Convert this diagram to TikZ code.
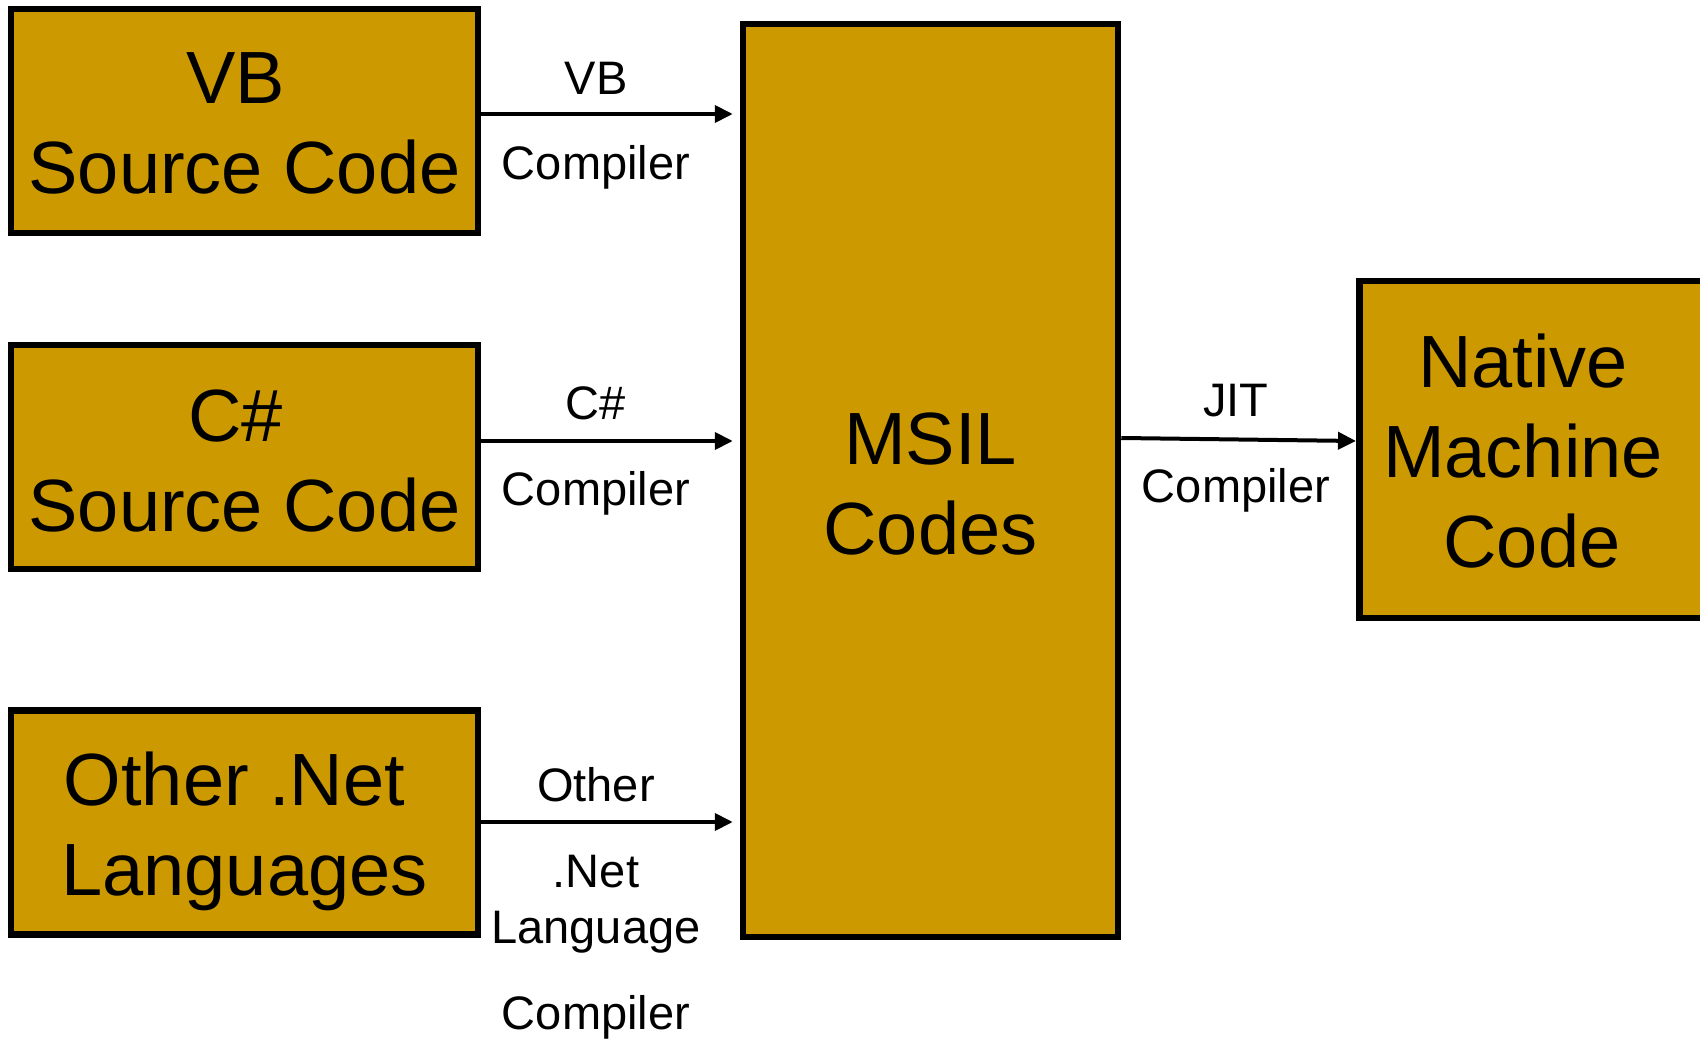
\documentclass[tikz,border=0pt]{standalone}
\usepackage{fontspec}
\setmainfont{Liberation Sans}
\usetikzlibrary{arrows.meta}
\definecolor{gold}{RGB}{204,153,0}
\newcommand\lowr[2]{\raisebox{-#1}[\height][\depth]{#2}}
\begin{document}
\begin{tikzpicture}[x=1pt,y=-1pt,
  bigfont/.style={font=\fontsize{74}{90}\selectfont},
  box/.style={draw=black, line width=6.5pt, fill=gold, inner sep=0pt, align=center, bigfont},
  lbl/.style={inner sep=0pt, font=\fontsize{47}{56}\selectfont},
  arr/.style={line width=4pt, -{Triangle[length=18pt,width=17pt]}}]
\useasboundingbox (0,0) rectangle (1700,1040);
\clip (0,0) rectangle (1700,1040);
\fill[white] (0,0) rectangle (1700,1040);

\node[box, minimum width=467pt, minimum height=224pt] (vb) at (244.5,121)
  {\lowr{2pt}{\hbox{VB\kern18pt}}\\\lowr{2pt}{Source Code}};
\node[box, minimum width=467pt, minimum height=224pt] (cs) at (244.5,457)
  {\lowr{4pt}{\hbox{C\#\kern18pt}}\\\lowr{4pt}{Source Code}};
\node[box, minimum width=467pt, minimum height=224pt] (oth) at (244.5,822.5)
  {\lowr{9pt}{\hbox{Other .Net\kern20pt}}\\\lowr{9pt}{Languages}};
\node[box, minimum width=375pt, minimum height=913pt] (msil) at (930.5,480.5)
  {\lowr{4pt}{MSIL}\\\lowr{4pt}{Codes}};
\node[box, minimum width=360pt, minimum height=337pt, anchor=west] (native) at (1356,449.5) {};
\node[inner sep=0pt, align=center, bigfont] (nativetxt) at (1523,451)
  {Native\\Machine\\\hbox{\kern18pt Code}};

\draw[arr, shorten >=7pt] (vb.east |- 0,114) -- (msil.west |- 0,114);
\draw[arr, shorten >=7pt] (cs.east |- 0,441) -- (msil.west |- 0,441);
\draw[arr, shorten >=7pt] (oth.east |- 0,822) -- (msil.west |- 0,822);
\draw[arr] (msil.east |- 0,438) -- (native.west |- 0,441);

\node[lbl] (vbl1) at (596,78) {VB};
\node[lbl] (vbl2) at (596,167) {Compiler};
\node[lbl] (csl1) at (596,403) {C\#};
\node[lbl] (csl2) at (596,493) {Compiler};
\node[lbl] (otl1) at (596,785) {Other};
\node[lbl] (otl2) at (596,872) {.Net};
\node[lbl] (otl3) at (596,932) {Language};
\node[lbl] (otl4) at (596,1017) {Compiler};
\node[lbl] (jitl1) at (1236,401) {JIT};
\node[lbl] (jitl2) at (1236,490) {Compiler};
\end{tikzpicture}
\end{document}
